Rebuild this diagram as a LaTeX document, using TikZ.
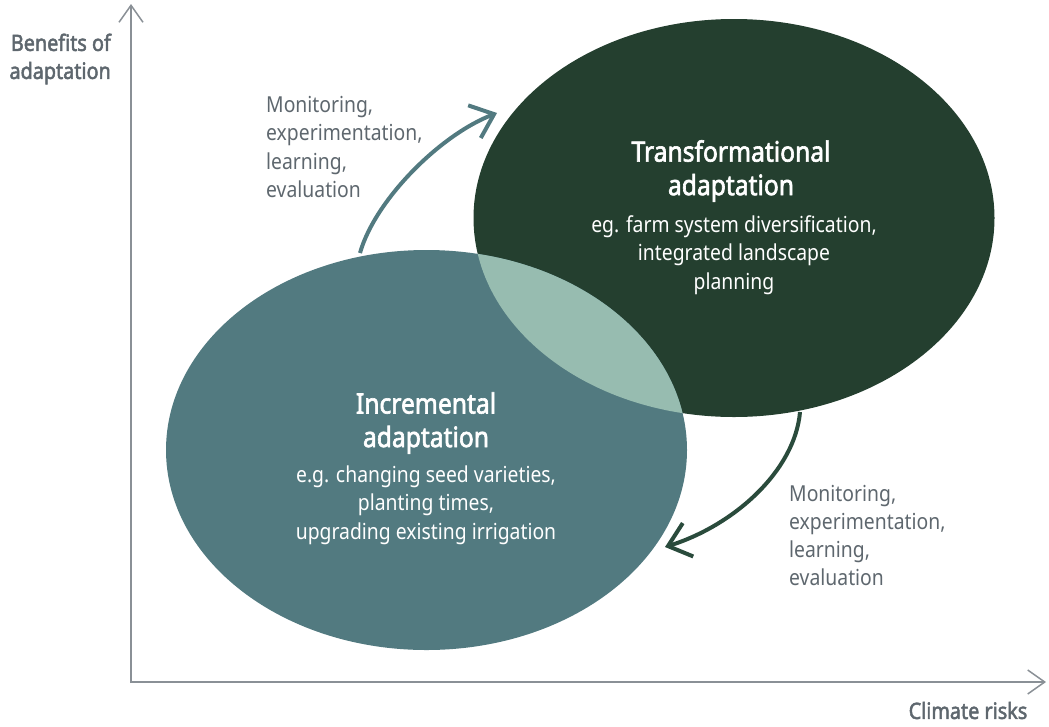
\documentclass[tikz,border=0pt]{standalone}
\usepackage{fontspec}
\setmainfont{Noto Sans}[FakeStretch=0.88, BoldFont={Noto Sans}, BoldFeatures={FakeBold=2.2}]
\usetikzlibrary{arrows.meta}
\definecolor{darkg}{HTML}{243F2F}
\definecolor{tealc}{HTML}{527A80}
\definecolor{mintc}{HTML}{97BCB0}
\definecolor{txtgray}{HTML}{5E676E}
\definecolor{axisgray}{HTML}{8A9096}
\definecolor{arrowdark}{HTML}{2A4B3C}
\tikzset{
  axisline/.style={draw=axisgray, line width=1.5pt, -{Straight Barb[length=17pt,width=24pt]}},
  cyclearrow/.style={line width=4pt, -{Straight Barb[length=21pt,width=35pt]}},
  titletext/.style={inner sep=0pt, text=white, align=center, font=\bfseries\fontsize{28}{33.5}\selectfont},
  subtext/.style={inner sep=0pt, text=white, align=center, font=\fontsize{22}{28.5}\selectfont},
  sidetext/.style={inner sep=0pt, text=txtgray, align=left, anchor=west, font=\fontsize{22}{28.3}\selectfont},
  axislabel/.style={inner sep=0pt, text=txtgray, font=\bfseries\fontsize{22.5}{28}\selectfont}
}
\begin{document}
\begin{tikzpicture}[x=1pt,y=-1pt]
\useasboundingbox (0,0) rectangle (1049,726);
% axes
\coordinate (origin) at (131,682);
\coordinate (ytop) at (131,4);
\coordinate (xend) at (1046,682);
\draw[axisline] (131,683) -- (ytop);
\draw[axisline] (origin) -- (xend);
% ellipses
\fill[darkg] (734,218) ellipse [x radius=260.5pt, y radius=199pt];
\fill[tealc] (426.5,450) ellipse [x radius=260.5pt, y radius=200pt];
\begin{scope}
  \clip (734,218) ellipse [x radius=260.5pt, y radius=199pt];
  \fill[mintc] (426.5,450) ellipse [x radius=260.5pt, y radius=200pt];
\end{scope}
% texts
\node[titletext] (ttitle) at (731,171) {Transformational\\adaptation};
\node[subtext] (tsub) at (734,255) {eg. farm system diversification,\\integrated landscape\\planning};
\node[titletext] (ititle) at (426,423) {Incremental\\adaptation};
\node[subtext] (isub) at (426,505) {e.g. changing seed varieties,\\planting times,\\upgrading existing irrigation};
\node[sidetext] (lab1) at (266,147) {Monitoring,\\experimentation,\\learning,\\evaluation};
\node[sidetext] (lab2) at (789,535.5) {Monitoring,\\experimentation,\\learning,\\evaluation};
\node[axislabel, anchor=east, align=right] (ylab) at (111,59) {Benefits of\\adaptation};
\node[axislabel] (xlab) at (968,710.5) {Climate risks};
% cycle arrows
\coordinate (a1s) at (360,253);
\coordinate (a1e) at (497,113);
\coordinate (a2s) at (800,412);
\coordinate (a2e) at (665,547);
\draw[cyclearrow, draw=tealc] (a1s) .. controls (375,200) and (440,135) .. (a1e);
\draw[cyclearrow, draw=arrowdark] (a2s) .. controls (795,470) and (735,525) .. (a2e);
\end{tikzpicture}
\end{document}
